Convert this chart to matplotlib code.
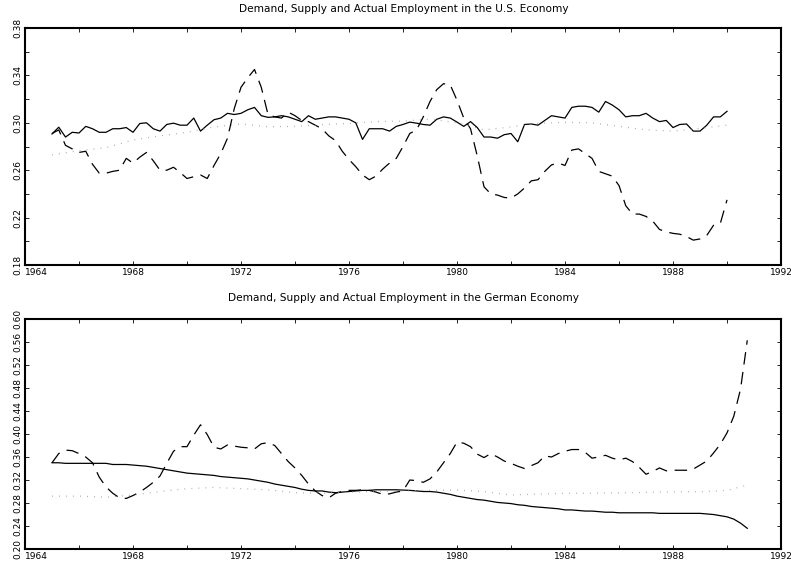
import numpy as np
import matplotlib.pyplot as plt
from matplotlib.ticker import MultipleLocator, FuncFormatter


# quarterly dates, 1965Q1 onwards
us_quarters = np.arange(1965.0, 1990.01, 0.25)
de_quarters = np.arange(1965.0, 1990.76, 0.25)

# U.S. economy: actual employment (solid), quarterly
us_actual = [
    0.2906, 0.2963, 0.288, 0.292,
    0.2914, 0.297, 0.295, 0.292,
    0.292, 0.295, 0.295, 0.296,
    0.292, 0.2994, 0.300, 0.295,
    0.293, 0.2986, 0.2997, 0.298,
    0.298, 0.304, 0.293, 0.298,
    0.3026, 0.304, 0.308, 0.307,
    0.308, 0.311, 0.313, 0.306,
    0.3046, 0.305, 0.306, 0.305,
    0.303, 0.301, 0.306, 0.303,
    0.304, 0.305, 0.305, 0.304,
    0.303, 0.300, 0.286, 0.295,
    0.295, 0.295, 0.293, 0.297,
    0.2986, 0.3006, 0.2997, 0.2986,
    0.298, 0.303, 0.305, 0.304,
    0.3006, 0.297, 0.301, 0.296,
    0.288, 0.288, 0.287, 0.290,
    0.291, 0.284, 0.2986, 0.299,
    0.298, 0.302, 0.306, 0.305,
    0.304, 0.313, 0.314, 0.314,
    0.313, 0.309, 0.318, 0.315,
    0.311, 0.305, 0.306, 0.306,
    0.308, 0.304, 0.301, 0.302,
    0.296, 0.2986, 0.299, 0.293,
    0.293, 0.298, 0.305, 0.305,
    0.3097,
]

# U.S. economy: labour demand (dashed), quarterly
us_demand = [
    0.291, 0.294, 0.281, 0.278,
    0.275, 0.276, 0.265, 0.2575,
    0.2575, 0.259, 0.260, 0.270,
    0.266, 0.271, 0.275, 0.268,
    0.260, 0.260, 0.2625, 0.258,
    0.253, 0.2545, 0.256, 0.253,
    0.264, 0.274, 0.287, 0.312,
    0.330, 0.338, 0.345, 0.330,
    0.307, 0.305, 0.304, 0.309,
    0.306, 0.302, 0.301, 0.298,
    0.295, 0.289, 0.285, 0.276,
    0.269, 0.263, 0.256, 0.252,
    0.255, 0.261, 0.266, 0.270,
    0.280, 0.291, 0.294, 0.305,
    0.318, 0.328, 0.333, 0.332,
    0.319, 0.304, 0.295, 0.272,
    0.246, 0.240, 0.239, 0.237,
    0.2365, 0.240, 0.245, 0.251,
    0.252, 0.259, 0.2645, 0.266,
    0.264, 0.277, 0.278, 0.274,
    0.270, 0.259, 0.257, 0.255,
    0.247, 0.230, 0.223, 0.223,
    0.221, 0.217, 0.210, 0.208,
    0.2067, 0.206, 0.204, 0.201,
    0.202, 0.205, 0.2135, 0.215,
    0.235,
]

# U.S. economy: labour supply (dotted), yearly
us_supply_years = list(range(1965, 1991))
us_supply = [
    0.273, 0.2765, 0.279, 0.2855, 0.289, 0.292, 0.2965, 0.299, 0.2967,
    0.297, 0.2985, 0.2995, 0.301, 0.3015, 0.303, 0.300, 0.294, 0.2965,
    0.2996, 0.3004, 0.300, 0.297, 0.294, 0.293, 0.2953, 0.298,
]

# German economy: actual employment (solid), quarterly
de_actual = [
    0.350, 0.350, 0.349, 0.349,
    0.349, 0.349, 0.349, 0.349,
    0.349, 0.347, 0.347, 0.347,
    0.346, 0.345, 0.344, 0.342,
    0.340, 0.338, 0.336, 0.334,
    0.332, 0.331, 0.330, 0.329,
    0.328, 0.326, 0.325, 0.324,
    0.323, 0.322, 0.320, 0.318,
    0.316, 0.313, 0.311, 0.309,
    0.307, 0.304, 0.302, 0.301,
    0.301, 0.299, 0.298, 0.299,
    0.300, 0.301, 0.302, 0.302,
    0.303, 0.303, 0.303, 0.303,
    0.3025, 0.302, 0.301, 0.300,
    0.300, 0.299, 0.297, 0.295,
    0.292, 0.290, 0.288, 0.286,
    0.285, 0.283, 0.281, 0.280,
    0.279, 0.277, 0.276, 0.274,
    0.273, 0.272, 0.271, 0.270,
    0.268, 0.268, 0.267, 0.266,
    0.266, 0.265, 0.264, 0.264,
    0.263, 0.263, 0.263, 0.263,
    0.263, 0.263, 0.262, 0.262,
    0.262, 0.262, 0.262, 0.262,
    0.262, 0.261, 0.260, 0.258,
    0.256, 0.252, 0.245, 0.236,
]

# German economy: labour demand (dashed), quarterly
de_demand = [
    0.350, 0.366, 0.372, 0.371,
    0.366, 0.360, 0.350, 0.325,
    0.308, 0.297, 0.289, 0.288,
    0.293, 0.299, 0.307, 0.316,
    0.327, 0.349, 0.370, 0.378,
    0.378, 0.398, 0.416, 0.399,
    0.377, 0.374, 0.381, 0.379,
    0.377, 0.376, 0.374, 0.383,
    0.385, 0.380, 0.366, 0.352,
    0.341, 0.328, 0.313, 0.301,
    0.293, 0.289, 0.297, 0.300,
    0.302, 0.302, 0.303, 0.302,
    0.299, 0.295, 0.296, 0.299,
    0.301, 0.320, 0.319, 0.316,
    0.322, 0.334, 0.350, 0.366,
    0.386, 0.384, 0.378, 0.365,
    0.359, 0.366, 0.360, 0.353,
    0.349, 0.344, 0.340, 0.345,
    0.350, 0.362, 0.360, 0.366,
    0.370, 0.373, 0.373, 0.368,
    0.358, 0.360, 0.363, 0.358,
    0.355, 0.358, 0.352, 0.342,
    0.330, 0.335, 0.341, 0.336,
    0.337, 0.337, 0.337, 0.339,
    0.346, 0.353, 0.367, 0.382,
    0.402, 0.431, 0.478, 0.563,
]

# German economy: labour supply (dotted), yearly plus last quarter
de_supply_years = list(range(1965, 1991)) + [1990.75]
de_supply = [
    0.292, 0.292, 0.290, 0.294, 0.300, 0.305, 0.307, 0.305, 0.303,
    0.298, 0.297, 0.299, 0.300, 0.301, 0.302, 0.3025, 0.300, 0.294,
    0.2955, 0.297, 0.297, 0.2975, 0.2985, 0.2995, 0.2997, 0.302, 0.311,
]

panels = [
    dict(title='Demand, Supply and Actual Employment in the U.S. Economy',
         x=us_quarters, actual=us_actual, demand=us_demand,
         sx=us_supply_years, supply=us_supply,
         ylim=(0.18, 0.38), ystep=0.02, ylab_step=0.04,
         rect=[0.0316, 0.5326, 0.9558, 0.418], title_y=0.984),
    dict(title='Demand, Supply and Actual Employment in the German Economy',
         x=de_quarters, actual=de_actual, demand=de_demand,
         sx=de_supply_years, supply=de_supply,
         ylim=(0.20, 0.60), ystep=0.04, ylab_step=0.04,
         rect=[0.0316, 0.0317, 0.9558, 0.4057], title_y=0.474),
]

fig = plt.figure(figsize=(7.91, 5.67), dpi=100)

for p in panels:
    ax = fig.add_axes(p['rect'])
    ax.plot(p['x'], p['actual'], color='black', linewidth=0.9)
    ax.plot(p['x'], p['demand'], color='black', linewidth=0.9,
            linestyle=(0, (10, 6)))
    ax.plot(p['sx'], p['supply'], color='#999999', linewidth=0.9,
            linestyle=(0, (0.6, 5)))

    ax.set_xlim(1964, 1992)
    ax.set_ylim(*p['ylim'])
    ax.xaxis.set_major_locator(MultipleLocator(2))
    ax.yaxis.set_major_locator(MultipleLocator(p['ystep']))

    lo = p['ylim'][0]
    step = p['ylab_step']
    ax.xaxis.set_major_formatter(FuncFormatter(
        lambda v, pos: f'{v:.0f}' if round(v) % 4 == 0 else ''))
    ax.yaxis.set_major_formatter(FuncFormatter(
        lambda v, pos, lo=lo, step=step:
        f'{v:.2f}' if abs((v - lo) / step - round((v - lo) / step)) < 1e-6 else ''))

    ax.tick_params(direction='in', length=3, width=0.6, labelsize=6.5,
                   top=True, right=True, pad=2)
    for lab in ax.get_yticklabels():
        lab.set_rotation(90)
        lab.set_va('center')
    for s in ax.spines.values():
        s.set_linewidth(1.5)

    fig.text(0.51, p['title_y'], p['title'], ha='center', va='center',
             fontsize=7.6)

    fig.canvas.draw()
    labels = ax.get_xticklabels()
    for lab in labels:
        if lab.get_text() == '1964':
            lab.set_ha('left')

fig.savefig('out.png', dpi=100)
